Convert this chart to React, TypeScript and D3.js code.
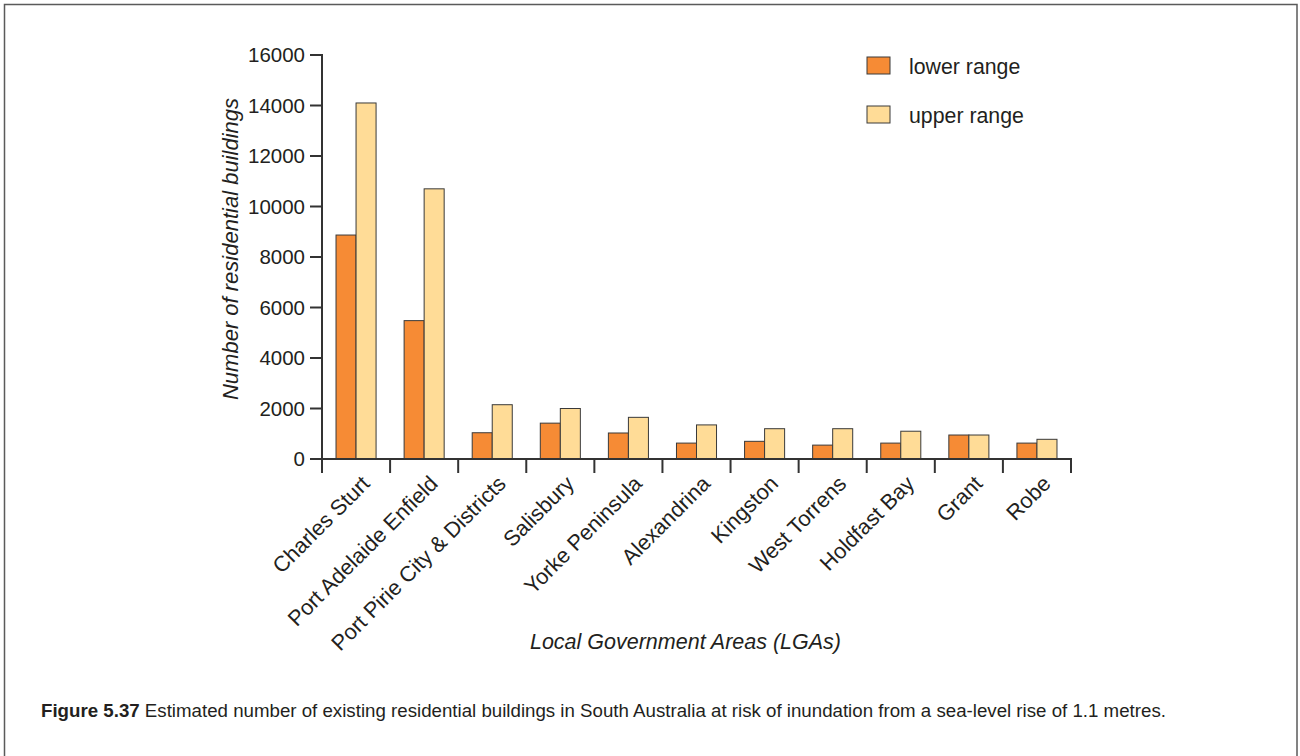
import React from "react";
import * as d3 from "d3";

const categories = [
  "Charles Sturt",
  "Port Adelaide Enfield",
  "Port Pirie City & Districts",
  "Salisbury",
  "Yorke Peninsula",
  "Alexandrina",
  "Kingston",
  "West Torrens",
  "Holdfast Bay",
  "Grant",
  "Robe",
];
const lowerRange = [8870, 5480, 1040, 1420, 1030, 630, 700, 550, 630, 950, 630];
const upperRange = [14100, 10700, 2150, 2000, 1650, 1350, 1200, 1200, 1100, 950, 780];
const seriesNames = ["lower range", "upper range"];
const yTicks = [0, 2000, 4000, 6000, 8000, 10000, 12000, 14000, 16000];

const W = 1300;
const H = 756;
const FONT = "'Liberation Sans', Arial, Helvetica, sans-serif";
const INK = "#231f20";
const AXIS = "#333333";
const COLORS = ["#f68b35", "#ffdc97"];

export default function App() {
  const x0 = d3.scaleBand<string>().domain(categories).range([322, 1071]).padding(0);
  const x1 = d3
    .scaleBand<string>()
    .domain(seriesNames)
    .range([0, x0.bandwidth()])
    .paddingInner(0)
    .paddingOuter(0.7);
  const y = d3.scaleLinear().domain([0, 16000]).range([459, 55]);
  const values = [lowerRange, upperRange];
  const boundaries = [...categories.map((c) => x0(c) as number), x0.range()[1]];

  return (
    <svg
      width={W}
      height={H}
      style={{ position: "absolute", left: 0, top: 0, background: "#fff" }}
      fontFamily={FONT}
    >
      <rect x={4.5} y={4.5} width={1292.5} height={770} fill="#fff" stroke="#5a5a5a" strokeWidth={1.5} />

      {/* bars */}
      {categories.map((c, i) => (
        <g key={c} transform={`translate(${x0(c)},0)`}>
          {seriesNames.map((s, k) => (
            <rect
              key={s}
              x={x1(s)}
              y={y(values[k][i])}
              width={x1.bandwidth()}
              height={y(0) - y(values[k][i])}
              fill={COLORS[k]}
              stroke="#3a3a3a"
              strokeWidth={1}
            />
          ))}
        </g>
      ))}

      {/* y axis */}
      <line x1={322} x2={322} y1={y(16000) - 1} y2={472} stroke={AXIS} strokeWidth={2} />
      {yTicks.map((t) => (
        <g key={t} transform={`translate(0,${y(t)})`}>
          <line x1={310} x2={322} stroke={AXIS} strokeWidth={2} />
          <text x={305} dy="0.36em" textAnchor="end" fontSize={20.5} fill={INK}>
            {t}
          </text>
        </g>
      ))}

      {/* x axis */}
      <line x1={321} x2={1072} y1={459} y2={459} stroke={AXIS} strokeWidth={2} />
      {boundaries.map((b, i) => (
        <line key={i} x1={b} x2={b} y1={459} y2={473} stroke={AXIS} strokeWidth={2} />
      ))}
      {categories.map((c) => {
        const cx = (x0(c) as number) + x0.bandwidth() / 2;
        return (
          <text
            key={c}
            transform={`translate(${cx + 15},${485}) rotate(-45)`}
            textAnchor="end"
            fontSize={21.7}
            fill={INK}
          >
            {c}
          </text>
        );
      })}

      {/* axis titles */}
      <text
        transform="translate(238,249) rotate(-90)"
        textAnchor="middle"
        fontSize={22}
        fontStyle="italic"
        fill={INK}
      >
        Number of residential buildings
      </text>
      <text x={685.5} y={649} textAnchor="middle" fontSize={21.5} fontStyle="italic" fill={INK}>
        Local Government Areas (LGAs)
      </text>

      {/* legend */}
      {seriesNames.map((s, k) => (
        <g key={s} transform={`translate(867,${57 + k * 49})`}>
          <rect x={0} y={0} width={23} height={17} fill={COLORS[k]} stroke="#3a3a3a" strokeWidth={1} />
          <text x={42} y={16.5} fontSize={21.3} fill={INK}>
            {s}
          </text>
        </g>
      ))}

      {/* caption */}
      <text x={41} y={717} fontSize={18.7} fill={INK}>
        <tspan fontWeight="bold">Figure 5.37</tspan>
        <tspan> Estimated number of existing residential buildings in South Australia at risk of inundation from a sea-level rise of 1.1 metres.</tspan>
      </text>
    </svg>
  );
}
